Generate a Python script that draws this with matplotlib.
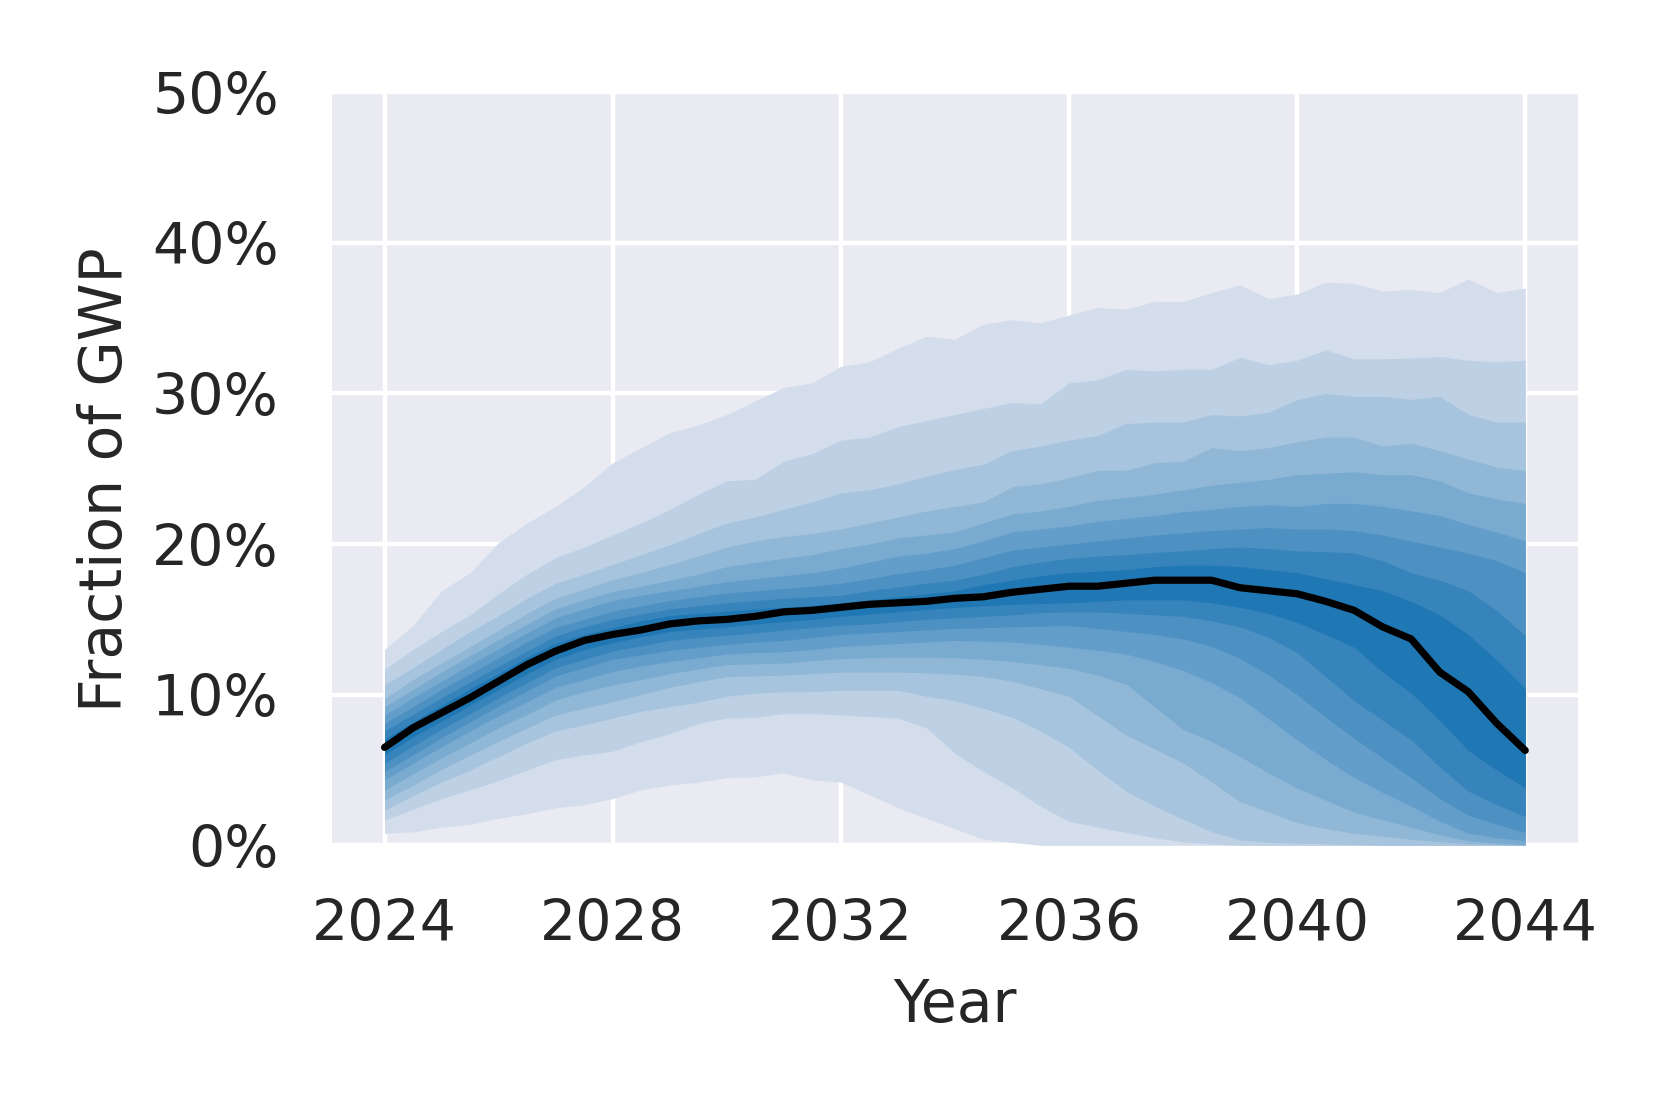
import numpy as np
import matplotlib
matplotlib.use("Agg")
import matplotlib.pyplot as plt
import matplotlib.colors as mcolors
from matplotlib.ticker import FuncFormatter
import seaborn as sns

# half-year steps, 2024 .. 2044
years = np.arange(2024, 2044.01, 0.5)

median = [6.5, 7.8, 8.8, 9.8, 10.9, 12.0, 12.9, 13.6, 14.0, 14.3,
          14.7, 14.9, 15.0, 15.2, 15.5, 15.6, 15.8, 16.0, 16.1, 16.2,
          16.4, 16.5, 16.8, 17.0, 17.2, 17.2, 17.4, 17.6, 17.6, 17.6,
          17.1, 16.9, 16.7, 16.2, 15.6, 14.5, 13.7, 11.5, 10.2, 8.1, 6.3]

# upper percentile bounds, u9 = outermost
u9 = [13.0, 14.6, 16.9, 18.1, 20.1, 21.4, 22.5, 23.8, 25.4, 26.4,
      27.4, 27.9, 28.6, 29.5, 30.4, 30.7, 31.8, 32.1, 33.0, 33.8,
      33.6, 34.6, 34.9, 34.7, 35.2, 35.7, 35.6, 36.1, 36.1, 36.7,
      37.2, 36.3, 36.6, 37.4, 37.3, 36.8, 36.9, 36.7, 37.6, 36.7, 37.0]
u8 = [11.7, 13.0, 14.2, 15.3, 16.7, 18.0, 19.1, 19.8, 20.6, 21.4,
      22.3, 23.3, 24.2, 24.3, 25.5, 26.0, 26.9, 27.1, 27.8, 28.2,
      28.6, 29.0, 29.4, 29.3, 30.7, 30.9, 31.6, 31.5, 31.6, 31.6,
      32.4, 31.9, 32.2, 32.9, 32.3, 32.3, 32.35, 32.45, 32.2, 32.1, 32.2]
u7 = [10.65, 11.8, 13.0, 14.2, 15.25, 16.4, 17.4, 18.0, 18.65, 19.3,
      19.95, 20.7, 21.4, 21.8, 22.3, 22.8, 23.4, 23.6, 24.0, 24.5,
      24.95, 25.3, 26.2, 26.5, 26.9, 27.2, 28.0, 28.1, 28.1, 28.6,
      28.5, 28.75, 29.6, 30.0, 29.8, 29.8, 29.6, 29.8, 28.6, 28.1, 28.1]
u6 = [9.76, 11.0, 12.1, 13.2, 14.3, 15.4, 16.4, 17.0, 17.65, 18.1,
      18.65, 19.2, 19.8, 20.2, 20.5, 20.7, 21.0, 21.4, 21.8, 22.2,
      22.5, 22.8, 23.8, 24.0, 24.4, 24.9, 24.9, 25.4, 25.5, 26.4,
      26.2, 26.4, 26.8, 27.1, 27.1, 26.5, 26.7, 26.2, 25.65, 25.1, 24.9]
u5 = [9.2, 10.35, 11.5, 12.6, 13.65, 14.7, 15.7, 16.3, 16.85, 17.2,
      17.6, 18.0, 18.5, 18.8, 19.05, 19.3, 19.7, 20.0, 20.4, 20.6,
      20.8, 21.4, 22.0, 22.2, 22.5, 22.9, 23.1, 23.3, 23.6, 23.9,
      24.1, 24.3, 24.6, 24.7, 24.8, 24.6, 24.6, 24.2, 23.4, 23.0, 22.7]
u4 = [8.65, 9.8, 10.9, 12.0, 13.05, 14.1, 15.1, 15.7, 16.25, 16.6,
      16.9, 17.2, 17.5, 17.7, 17.9, 18.1, 18.4, 18.8, 19.2, 19.4,
      19.7, 20.2, 20.8, 21.0, 21.2, 21.5, 21.7, 21.9, 22.15, 22.3,
      22.5, 22.6, 22.5, 22.7, 22.7, 22.5, 22.2, 21.9, 21.3, 20.8, 20.2]
u3 = [8.1, 9.2, 10.35, 11.4, 12.45, 13.5, 14.45, 15.0, 15.55, 15.9,
      16.25, 16.5, 16.75, 16.9, 17.05, 17.2, 17.4, 17.7, 18.05, 18.3,
      18.6, 19.1, 19.6, 19.8, 20.0, 20.2, 20.4, 20.6, 20.75, 20.9,
      21.0, 21.1, 21.0, 21.0, 20.9, 20.6, 20.2, 19.8, 19.4, 18.9, 18.1]
u2 = [7.6, 8.7, 9.8, 10.85, 11.9, 12.9, 13.9, 14.5, 15.0, 15.35,
      15.7, 15.9, 16.1, 16.25, 16.4, 16.5, 16.6, 16.9, 17.15, 17.4,
      17.6, 18.0, 18.5, 18.8, 19.06, 19.2, 19.3, 19.45, 19.55, 19.7,
      19.8, 19.7, 19.55, 19.5, 19.4, 18.9, 18.1, 17.6, 16.9, 15.6, 13.9]
u1 = [7.05, 8.2, 9.3, 10.4, 11.4, 12.5, 13.4, 14.0, 14.45, 14.9,
      15.25, 15.4, 15.55, 15.7, 15.8, 15.95, 16.1, 16.3, 16.5, 16.7,
      16.9, 17.3, 17.6, 17.9, 18.1, 18.2, 18.3, 18.5, 18.6, 18.6,
      18.5, 18.3, 18.1, 17.7, 17.3, 16.9, 16.2, 15.3, 14.0, 12.3, 10.4]

# lower percentile bounds, l9 = outermost
l1 = [6.0, 7.2, 8.25, 9.3, 10.35, 11.4, 12.35, 13.0, 13.45, 13.85,
      14.2, 14.35, 14.5, 14.7, 14.85, 15.0, 15.2, 15.35, 15.5, 15.65,
      15.8, 15.9, 16.0, 16.05, 16.1, 16.2, 16.3, 16.3, 16.3, 16.1,
      15.8, 15.4, 14.8, 14.0, 13.15, 11.5, 10.1, 8.3, 6.3, 5.0, 3.8]
l2 = [5.45, 6.6, 7.7, 8.75, 9.8, 10.8, 11.8, 12.35, 12.9, 13.25,
      13.6, 13.8, 13.95, 14.1, 14.3, 14.45, 14.6, 14.7, 14.85, 15.0,
      15.1, 15.2, 15.3, 15.45, 15.5, 15.5, 15.4, 15.3, 15.2, 14.9,
      14.5, 13.8, 12.8, 11.2, 9.6, 8.3, 7.0, 5.2, 3.6, 2.7, 1.9]
l3 = [4.9, 6.0, 7.15, 8.2, 9.25, 10.25, 11.25, 11.8, 12.35, 12.65,
      12.95, 13.15, 13.35, 13.5, 13.6, 13.8, 14.0, 14.1, 14.2, 14.3,
      14.4, 14.45, 14.5, 14.55, 14.6, 14.4, 14.2, 14.0, 13.7, 13.2,
      12.4, 11.3, 10.0, 8.5, 7.1, 5.8, 4.5, 3.1, 2.0, 1.4, 0.85]
l4 = [4.35, 5.45, 6.55, 7.6, 8.6, 9.55, 10.5, 11.0, 11.55, 11.9,
      12.2, 12.45, 12.7, 12.8, 12.85, 13.0, 13.2, 13.3, 13.4, 13.5,
      13.6, 13.55, 13.5, 13.35, 13.15, 12.95, 12.7, 12.2, 11.6, 10.8,
      9.8, 8.4, 7.0, 5.7, 4.5, 3.5, 2.6, 1.6, 0.8, 0.5, 0.3]
l5 = [3.67, 4.75, 5.8, 6.8, 7.8, 8.7, 9.65, 10.2, 10.65, 11.0,
      11.4, 11.7, 12.0, 12.05, 12.1, 12.25, 12.4, 12.45, 12.5, 12.5,
      12.45, 12.35, 12.2, 12.0, 11.75, 11.3, 10.7, 9.2, 7.7, 6.9,
      5.9, 4.8, 3.8, 3.0, 2.2, 1.7, 1.2, 0.7, 0.3, 0.15, 0.05]
l6 = [3.0, 4.0, 5.05, 6.0, 6.9, 7.8, 8.65, 9.1, 9.55, 10.0,
      10.5, 10.85, 11.2, 11.25, 11.3, 11.4, 11.5, 11.5, 11.5, 11.45,
      11.36, 11.2, 10.9, 10.4, 9.9, 8.6, 7.33, 6.4, 5.47, 4.2,
      2.9, 2.2, 1.5, 1.1, 0.8, 0.6, 0.4, 0.25, 0.1, 0.05, 0.0]
l7 = [2.34, 3.3, 4.2, 5.0, 5.9, 6.8, 7.6, 8.0, 8.45, 8.9,
      9.2, 9.5, 9.9, 10.1, 10.2, 10.2, 10.3, 10.3, 10.3, 9.9,
      9.6, 9.1, 8.5, 7.6, 6.5, 5.0, 3.6, 2.6, 1.74, 0.9,
      0.35, 0.2, 0.15, 0.1, 0.05, 0.0, 0.0, 0.0, 0.0, 0.0, 0.0]
l8 = [1.68, 2.4, 3.1, 3.7, 4.3, 5.0, 5.7, 6.0, 6.25, 6.9,
      7.4, 8.1, 8.45, 8.5, 8.75, 8.75, 8.65, 8.55, 8.45, 7.8,
      6.1, 4.9, 3.84, 2.6, 1.6, 1.2, 0.86, 0.5, 0.23, 0.1,
      0.0, 0.0, 0.0, 0.0, 0.0, 0.0, 0.0, 0.0, 0.0, 0.0, 0.0]
l9 = [0.8, 0.9, 1.2, 1.4, 1.8, 2.1, 2.5, 2.7, 3.1, 3.7,
      4.0, 4.2, 4.5, 4.55, 4.8, 4.35, 4.2, 3.35, 2.5, 1.8,
      1.1, 0.4, 0.2, 0.0, 0.0, 0.0, 0.0, 0.0, 0.0, 0.0,
      0.0, 0.0, 0.0, 0.0, 0.0, 0.0, 0.0, 0.0, 0.0, 0.0, 0.0]

uppers = [u9, u8, u7, u6, u5, u4, u3, u2, u1]
lowers = [l9, l8, l7, l6, l5, l4, l3, l2, l1]

xticks = [2024, 2028, 2032, 2036, 2040, 2044]
yticks = [0, 10, 20, 30, 40, 50]

sns.set_style("darkgrid")
plt.rcParams['font.family'] = ['DejaVu Sans']

bg = np.array(mcolors.to_rgb("#EAEAF2"))
blue = np.array(mcolors.to_rgb("#1f77b4"))
text_color = "#262626"

fig = plt.figure(figsize=(16.61, 11.07), dpi=100)
ax = fig.add_axes([0.1996, 0.2364, 0.7506, 0.6803])
ax.set_facecolor("#EAEAF2")

# nested bands, outermost first, each a bit more opaque
n = len(uppers)
for k in range(n):
    a = (k + 1) / n
    col = (1 - a) * bg + a * blue
    ax.fill_between(years, lowers[k], uppers[k], color=col, linewidth=0, zorder=1)

ax.plot(years, median, color="black", linewidth=5.2, solid_capstyle="round", zorder=3)

ax.set_xlim(2023.07, 2044.93)
ax.set_ylim(0, 50)
ax.set_xticks(xticks)
ax.set_yticks(yticks)
ax.yaxis.set_major_formatter(FuncFormatter(lambda v, p: f"{v:.0f}%"))

ax.grid(True, color="white", linewidth=3.2)
ax.set_axisbelow(True)
for s in ax.spines.values():
    s.set_visible(False)

ax.tick_params(axis="both", length=0, labelsize=41, colors=text_color)
ax.tick_params(axis="x", pad=38)
ax.tick_params(axis="y", pad=38)

ax.set_xlabel("Year", fontsize=42, color=text_color, labelpad=17)
ax.set_ylabel("Fraction of GWP", fontsize=42, color=text_color, labelpad=13)
ax.yaxis.label.set_y(0.486)

fig.savefig("out.png", dpi=100)
